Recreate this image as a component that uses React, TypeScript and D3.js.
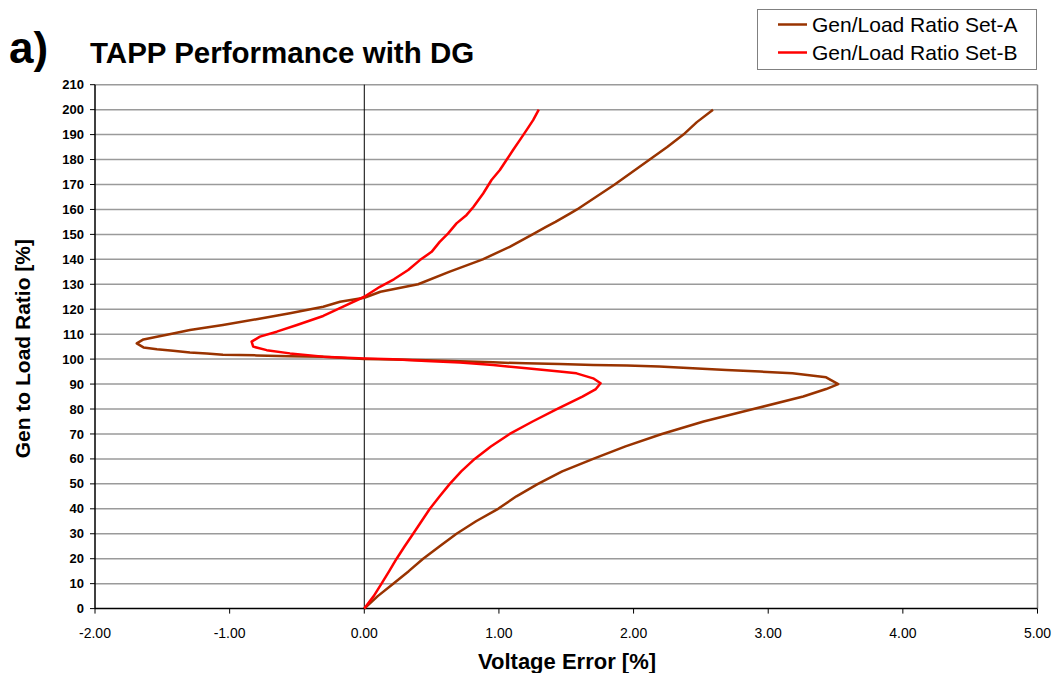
import React from "react";
import * as d3 from "d3";

// Gen/Load ratio [%] and voltage error [%] for each run, in trace order
const ratioA = [0, 5, 10, 15, 20, 25, 30, 35, 40, 45, 50, 55, 60, 65, 70, 75, 80, 85, 88, 90,
  92.7, 94.3, 95, 95.6, 96.3, 97, 97.4, 97.6, 98, 98.3, 98.7, 99.1, 99.5, 99.8, 100,
  101, 101.2, 101.5, 101.8, 102.3, 102.7, 103.4, 104, 104.7, 106.3, 107.9, 109, 110.3, 111.7,
  113.7, 116, 118.4, 121, 123, 124.6, 127, 130, 135, 140, 145, 150, 153, 155, 158.4, 160,
  165, 170, 175, 180, 185, 190, 195, 200];
const errorA = [0, 0.1, 0.215, 0.33, 0.437, 0.56, 0.685, 0.83, 0.994, 1.13, 1.29, 1.47, 1.7, 1.94, 2.21, 2.52, 2.89, 3.26, 3.43, 3.52,
  3.43, 3.18, 2.94, 2.69, 2.44, 2.19, 1.95, 1.7, 1.45, 1.2, 0.957, 0.71, 0.46, 0.215, 0,
  -0.305, -0.552, -0.8, -1.05, -1.17, -1.295, -1.42, -1.54, -1.64, -1.69, -1.64, -1.54, -1.42, -1.295,
  -1.05, -0.8, -0.552, -0.305, -0.18, 0, 0.12, 0.4, 0.63, 0.88, 1.08, 1.25, 1.35, 1.42, 1.53, 1.58,
  1.72, 1.86, 1.99, 2.12, 2.25, 2.37, 2.47, 2.59];

const ratioB = [0, 5, 10, 15, 20, 25, 30, 35, 40, 45, 50, 55, 60, 65, 70, 75, 80, 85, 88, 90.3,
  92.3, 94.3, 95, 96.3, 97.6, 98.6, 99.2, 99.9, 100.3, 101, 102.3, 103.6, 105, 107, 109, 111,
  113.7, 117.3, 121, 125, 129, 132, 135.7, 139.7, 143, 147, 150.4, 154.4, 157.8, 161, 166.4,
  171.8, 175.8, 179.8, 183.8, 187.8, 191.8, 195.8, 200];
const errorB = [0, 0.07, 0.128, 0.185, 0.24, 0.3, 0.363, 0.425, 0.487, 0.56, 0.635, 0.72, 0.82, 0.94, 1.08, 1.25, 1.43, 1.62, 1.72, 1.755,
  1.7, 1.576, 1.45, 1.205, 0.957, 0.71, 0.46, 0.215, 0, -0.305, -0.552, -0.725, -0.825, -0.837, -0.775, -0.65,
  -0.5, -0.305, -0.157, 0, 0.116, 0.22, 0.326, 0.413, 0.5, 0.56, 0.623, 0.685, 0.76, 0.81, 0.883,
  0.945, 1.007, 1.056, 1.105, 1.155, 1.205, 1.254, 1.296];

const seriesNames = ["Gen/Load Ratio Set-A", "Gen/Load Ratio Set-B"];
const seriesColors = ["#993300", "#ff0000"];

const xTicks = [-2, -1, 0, 1, 2, 3, 4, 5];
const yTicks = d3.range(0, 211, 10);

const W = 1061;
const H = 673;
const left = 95;
const right = 1037.5;
const top = 84.7;
const bottom = 608.6;

const font = "Arial, 'Liberation Sans', Helvetica, sans-serif";

export default function App() {
  const x = d3.scaleLinear().domain([-2, 5]).range([left, right]);
  const y = d3.scaleLinear().domain([0, 210]).range([bottom, top]);

  const line = d3
    .line<[number, number]>()
    .x((d) => x(d[0]))
    .y((d) => y(d[1]));

  const ptsA: [number, number][] = ratioA.map((r, i) => [errorA[i], r]);
  const ptsB: [number, number][] = ratioB.map((r, i) => [errorB[i], r]);

  return (
    <svg
      width={W}
      height={H}
      style={{ position: "absolute", left: 0, top: 0, background: "#fff" }}
      fontFamily={font}
    >
      <rect x={0} y={0} width={W} height={H} fill="#fff" />

      {/* horizontal grid */}
      {yTicks
        .filter((t) => t > 0)
        .map((t) => (
          <line key={"g" + t} x1={left} x2={right} y1={y(t)} y2={y(t)} stroke="#9a9a9a" strokeWidth={1.5} />
        ))}
      {/* right border */}
      <line x1={right} x2={right} y1={top} y2={bottom} stroke="#808080" strokeWidth={1.5} />

      {/* zero-error reference */}
      <line x1={x(0)} x2={x(0)} y1={top} y2={bottom} stroke="#000" strokeWidth={1} />

      {/* axes */}
      <line x1={left} x2={left} y1={top} y2={bottom} stroke="#000" strokeWidth={1.5} />
      <line x1={left} x2={right} y1={bottom} y2={bottom} stroke="#000" strokeWidth={1.5} />

      {yTicks.map((t) => (
        <g key={"y" + t}>
          <line x1={left - 5} x2={left} y1={y(t)} y2={y(t)} stroke="#000" strokeWidth={1} />
          <text x={left - 11} y={y(t)} dy="0.35em" textAnchor="end" fontSize={13} fontWeight="bold" fill="#000">
            {t}
          </text>
        </g>
      ))}
      {xTicks.map((t) => (
        <g key={"x" + t}>
          <line x1={x(t)} x2={x(t)} y1={bottom} y2={bottom + 5} stroke="#000" strokeWidth={1} />
          <text x={x(t)} y={638} textAnchor="middle" fontSize={14} fill="#000">
            {t.toFixed(2)}
          </text>
        </g>
      ))}

      {/* series */}
      <path d={line(ptsA) || ""} fill="none" stroke={seriesColors[0]} strokeWidth={2.5} strokeLinejoin="round" />
      <path d={line(ptsB) || ""} fill="none" stroke={seriesColors[1]} strokeWidth={2.5} strokeLinejoin="round" />

      {/* axis titles */}
      <text x={567} y={669} textAnchor="middle" fontSize={22} fontWeight="bold" fill="#000">
        Voltage Error [%]
      </text>
      <text
        transform={`translate(30, ${(top + bottom) / 2 + 2}) rotate(-90)`}
        textAnchor="middle"
        fontSize={21}
        fontWeight="bold"
        fill="#000"
      >
        Gen to Load Ratio [%]
      </text>

      {/* heading */}
      <text x={9} y={63} fontSize={44} fontWeight="bold" fill="#000">
        a)
      </text>
      <text x={90} y={63} fontSize={29.5} fontWeight="bold" fill="#000">
        TAPP Performance with DG
      </text>

      {/* legend */}
      <rect x={757.5} y={9.5} width={279} height={60} fill="#fff" stroke="#808080" strokeWidth={1} />
      {seriesNames.map((name, i) => (
        <g key={name}>
          <line x1={778} x2={807} y1={24.5 + i * 28} y2={24.5 + i * 28} stroke={seriesColors[i]} strokeWidth={2.5} />
          <text x={812} y={31.5 + i * 28.3} fontSize={21} fill="#000">
            {name}
          </text>
        </g>
      ))}
    </svg>
  );
}
